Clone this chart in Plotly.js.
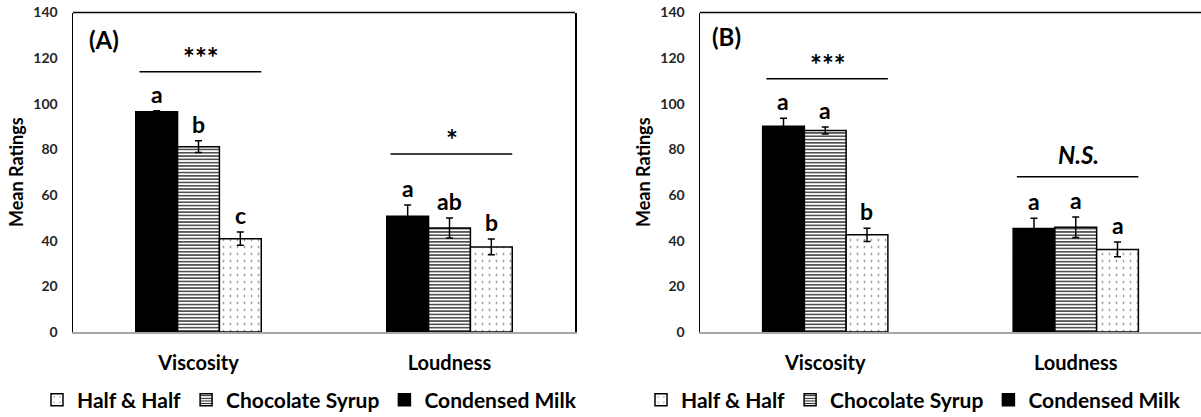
<!DOCTYPE html>
<html><head><meta charset="utf-8">
<script src="https://cdn.plot.ly/plotly-3.0.1.min.js"></script>
<style>html,body{margin:0;padding:0;background:#fff}#chart{width:1201px;height:417px}</style>
</head><body><div id="chart"></div>
<script>
// ---- data ----
const categories = ['Viscosity', 'Loudness'];
const seriesNames = ['Condensed Milk', 'Chocolate Syrup', 'Half & Half'];

// Panel (A)
const meansA_condensed = [96.5, 50.7];
const meansA_chocolate = [81.2, 45.6];
const meansA_half      = [40.9, 37.3];
const errA_condensed = [0.5, 5.0];
const errA_chocolate = [2.6, 4.4];
const errA_half      = [2.9, 3.5];
const lettersA_condensed = ['a', 'a'];
const lettersA_chocolate = ['b', 'ab'];
const lettersA_half      = ['c', 'b'];
const sigLabelA = ['***', '*'];
const sigLevelA = [114, 78];

// Panel (B)
const meansB_condensed = [90.2, 45.3];
const meansB_chocolate = [88.3, 45.9];
const meansB_half      = [42.6, 36.2];
const errB_condensed = [3.5, 4.5];
const errB_chocolate = [1.5, 4.5];
const errB_half      = [2.9, 3.2];
const lettersB_condensed = ['a', 'a'];
const lettersB_chocolate = ['a', 'a'];
const lettersB_half      = ['b', 'a'];
const sigLabelB = ['***', 'N.S.'];
const sigLevelB = [111, 68];

const yTicks = [0, 20, 40, 60, 80, 100, 120, 140];

// ---- styles ----
const FONT = 'Lato, "Open Sans", "Liberation Sans", sans-serif';
const styles = [
  {color: '#000000', pattern: {shape: ''}},
  {color: '#ffffff', pattern: {shape: '-', size: 3.3, solidity: 0.38, fgcolor: '#1a1a1a', bgcolor: '#ffffff'}},
  {color: '#ffffff', pattern: {shape: '.', size: 7, solidity: 0.05, fgcolor: '#777777', bgcolor: '#ffffff'}}
];

function makeTraces(means, errs, xa, ya, legendName) {
  return means.map((m, i) => ({
    type: 'bar', name: seriesNames[i], x: categories, y: m,
    xaxis: xa, yaxis: ya, legend: legendName,
    marker: {color: styles[i].color, pattern: styles[i].pattern, line: {color: '#000', width: 1.5}},
    error_y: {type: 'data', array: errs[i], visible: true, color: '#000', thickness: 1.5, width: 3.5},
    hoverinfo: 'skip'
  }));
}

const traces = [
  ...makeTraces([meansA_condensed, meansA_chocolate, meansA_half], [errA_condensed, errA_chocolate, errA_half], 'x', 'y', 'legend'),
  ...makeTraces([meansB_condensed, meansB_chocolate, meansB_half], [errB_condensed, errB_chocolate, errB_half], 'x2', 'y2', 'legend2')
];

const annotations = [];
const shapes = [];
const offs = [-1/6, 0, 1/6];
function addPanel(means, errs, letters, sigLabel, sigLevel, xa, ya, label, labelX, labelY) {
  categories.forEach((c, ci) => {
    means.forEach((m, si) => {
      annotations.push({xref: xa, yref: ya, x: ci + offs[si], y: m[ci] + errs[si][ci], yanchor: 'bottom', yshift: 1,
        text: letters[si][ci], showarrow: false, font: {family: FONT, size: 23, weight: 700, color: '#000'}});
    });
    shapes.push({type: 'line', xref: xa, yref: ya, x0: ci - 0.235, x1: ci + 0.25, y0: sigLevel[ci], y1: sigLevel[ci], line: {color: '#000', width: 1.5}});
    const ns = sigLabel[ci].indexOf('N') === 0;
    annotations.push({xref: xa, yref: ya, x: ci + 0.01, y: sigLevel[ci], yanchor: 'bottom', yshift: ns ? 6 : -4,
      text: ns ? '<i>' + sigLabel[ci] + '</i>' : sigLabel[ci], showarrow: false,
      font: {family: FONT, size: ns ? 24 : 28, weight: 700, color: '#000'}});
  });
  annotations.push({xref: xa + ' domain', yref: ya + ' domain', x: labelX, y: labelY, xanchor: 'left', yanchor: 'middle',
    text: label, showarrow: false, font: {family: FONT, size: 24, weight: 700, color: '#000'}});
}
addPanel([meansA_condensed, meansA_chocolate, meansA_half], [errA_condensed, errA_chocolate, errA_half],
  [lettersA_condensed, lettersA_chocolate, lettersA_half], sigLabelA, sigLevelA, 'x', 'y', '(A)', 0.028, 0.915);
addPanel([meansB_condensed, meansB_chocolate, meansB_half], [errB_condensed, errB_chocolate, errB_half],
  [lettersB_condensed, lettersB_chocolate, lettersB_half], sigLabelB, sigLevelB, 'x2', 'y2', '(B)', 0.019, 0.925);

// top frame lines
shapes.push({type: 'line', xref: 'x domain', yref: 'y domain', x0: 0, x1: 1, y0: 1, y1: 1, line: {color: '#000', width: 1.5}});
shapes.push({type: 'line', xref: 'x2 domain', yref: 'y2 domain', x0: 0, x1: 1, y0: 1, y1: 1, line: {color: '#000', width: 1.5}});

const W = 1201, H = 417;
const yDom = [(H - 332) / H, (H - 12.5) / H];
function xAxis(dom) {
  return {domain: dom, type: 'category', range: [-0.5, 1.5], showgrid: false, zeroline: false,
    showline: true, linecolor: '#a6a6a6', linewidth: 2,
    ticks: 'outside', ticklen: 12, tickcolor: 'rgba(0,0,0,0)',
    tickfont: {family: FONT, size: 20, weight: 700, color: '#000'}, fixedrange: true};
}
function yAxis(anchor, mirror) {
  return {domain: yDom, anchor: anchor, range: [0, 140], tickvals: yTicks, showgrid: false, zeroline: false,
    showline: true, linecolor: '#000', linewidth: 1.5, mirror: mirror,
    ticks: 'outside', ticklen: 11, tickcolor: 'rgba(0,0,0,0)',
    tickfont: {family: FONT, size: 14, weight: 700, color: '#262626'},
    title: {text: 'Mean Ratings', standoff: 5, font: {family: FONT, size: 18, weight: 700, color: '#000'}},
    fixedrange: true};
}

const legendFont = {family: FONT, size: 21, weight: 700, color: '#000'};
const layout = {
  width: W, height: H, margin: {l: 0, r: 0, t: 0, b: 0, autoexpand: false},
  paper_bgcolor: '#fff', plot_bgcolor: '#fff',
  barmode: 'group', bargap: 0.5, bargroupgap: 0,
  xaxis: xAxis([73 / W, 575 / W]),
  yaxis: yAxis('x', true),
  xaxis2: Object.assign(xAxis([700 / W, 1]), {anchor: 'y2'}),
  yaxis2: yAxis('x2', false),
  legend: {orientation: 'h', x: 37 / W, xanchor: 'left', y: (H - 400) / H, yanchor: 'middle', traceorder: 'reversed',
    font: legendFont, bgcolor: 'rgba(0,0,0,0)'},
  legend2: {orientation: 'h', x: 641 / W, xanchor: 'left', y: (H - 400) / H, yanchor: 'middle', traceorder: 'reversed',
    font: legendFont, bgcolor: 'rgba(0,0,0,0)'},
  annotations: annotations, shapes: shapes, showlegend: true
};
layout.xaxis.anchor = 'y';

Plotly.newPlot('chart', traces, layout, {displayModeBar: false, staticPlot: true});
</script></body></html>
